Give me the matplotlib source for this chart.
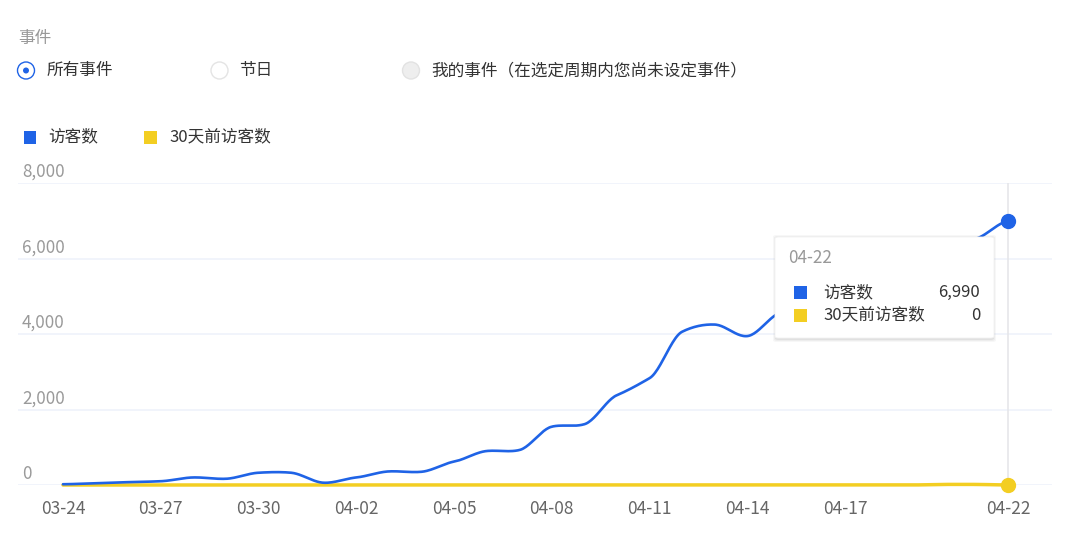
import numpy as np
import matplotlib
matplotlib.use("Agg")
import matplotlib.pyplot as plt
from matplotlib.patches import FancyBboxPatch, Rectangle, Ellipse

plt.rcParams['font.family'] = ['Noto Sans CJK SC', 'DejaVu Sans']

# ---- data ----
dates = ["03-24", "03-25", "03-26", "03-27", "03-28", "03-29", "03-30", "03-31",
         "04-01", "04-02", "04-03", "04-04", "04-05", "04-06", "04-07", "04-08",
         "04-09", "04-10", "04-11", "04-12", "04-13", "04-14", "04-15", "04-16",
         "04-17", "04-18", "04-19", "04-20", "04-21", "04-22"]
visitors = [20, 45, 75, 100, 200, 165, 325, 325,
            60, 200, 360, 350, 620, 900, 925, 1545,
            1610, 2380, 2830, 4060, 4250, 3945, 4560, 4950,
            5300, 5650, 5950, 6250, 6520, 6990]
visitors_30d = [0] * 27 + [15, 15, 0]
tick_labels = ["03-24", "03-27", "03-30", "04-02", "04-05", "04-08",
               "04-11", "04-14", "04-17", "04-22"]
y_ticks = [0, 2000, 4000, 6000, 8000]
series_names = ["访客数", "30天前访客数"]
series_colors = ["#1F63E6", "#F3CE22"]
radio_labels = ["所有事件", "节日", "我的事件（在选定周期内您尚未设定事件）"]
hover_index = 29

FS = 12
W, H = 1083, 551
fig = plt.figure(figsize=(W / 100, H / 100), dpi=100)
fig.patch.set_facecolor("white")


def fx(x):
    return x / W


def fy(y):
    return 1 - y / H


# ---- axes ----
ax = fig.add_axes([fx(18), fy(485), fx(1052) - fx(18), fy(183) - fy(485)])
ax.set_ylim(0, 8000)
px_per_day = (1008 - 63) / 29
ax.set_xlim(-(63 - 18) / px_per_day, 29 + (1052 - 1008) / px_per_day)
for s in ax.spines.values():
    s.set_visible(False)
ax.set_yticks(y_ticks)
ax.set_yticklabels([])
ax.tick_params(axis='y', length=0)
ax.grid(axis='y', color="#EEF1FA", linewidth=1.1)
ax.set_axisbelow(True)
idx = {d: i for i, d in enumerate(dates)}
ax.set_xticks([idx[t] for t in tick_labels])
ax.set_xticklabels(tick_labels, color="#666666", fontsize=12.5)
ax.tick_params(axis='x', length=0, pad=11)

for v in y_ticks:
    ax.text((22 - 18) / (1052 - 18), v + 60, f"{v:,}", transform=ax.get_yaxis_transform(),
            ha='left', va='bottom', color="#9A9A9A", fontsize=12.3)


def smooth(xs, ys, n=24, k=0.3):
    xs = np.asarray(xs, float)
    ys = np.asarray(ys, float)
    ox, oy = [], []
    m = len(xs)
    for i in range(m - 1):
        p0 = ys[max(i - 1, 0)]
        p1 = ys[i]
        p2 = ys[i + 1]
        p3 = ys[min(i + 2, m - 1)]
        t = np.linspace(0, 1, n, endpoint=False)
        m1 = (p2 - p0) * k
        m2 = (p3 - p1) * k
        h00 = 2 * t**3 - 3 * t**2 + 1
        h10 = t**3 - 2 * t**2 + t
        h01 = -2 * t**3 + 3 * t**2
        h11 = t**3 - t**2
        oy.extend(h00 * p1 + h10 * m1 + h01 * p2 + h11 * m2)
        ox.extend(xs[i] + t * (xs[i + 1] - xs[i]))
    ox.append(xs[-1])
    oy.append(ys[-1])
    return np.array(ox), np.array(oy)


x = np.arange(len(dates))
ax.axvline(hover_index, color="#E6E6EA", linewidth=1.2, zorder=1)

sx, sy = smooth(x, visitors_30d)
ax.plot(sx, sy, color=series_colors[1], linewidth=2.5, zorder=3, clip_on=False,
        solid_capstyle='round')
sx, sy = smooth(x, visitors)
ax.plot(sx, sy, color=series_colors[0], linewidth=1.9, zorder=4, clip_on=False,
        solid_capstyle='round')
ax.plot([x[hover_index]], [visitors[hover_index]], 'o', color=series_colors[0],
        markersize=10, zorder=6, clip_on=False)
ax.plot([x[hover_index]], [visitors_30d[hover_index]], 'o', color=series_colors[1],
        markersize=10, zorder=6, clip_on=False)

# ---- header ----
fig.text(fx(18), fy(39), "事件", color="#999999", fontsize=FS, va='center', ha='left')
radio_x = [26, 219.5, 411]
text_x = [47, 239.5, 431]
ry = 70.5
for i, (cx, tx, lab) in enumerate(zip(radio_x, text_x, radio_labels)):
    if i == 0:
        fig.patches.append(Ellipse((fx(cx), fy(ry)), 17 / W, 17 / H, transform=fig.transFigure,
                                   facecolor="white", edgecolor="#1F63E6", linewidth=1.0))
        fig.patches.append(Ellipse((fx(cx), fy(ry)), 6 / W, 6 / H, transform=fig.transFigure,
                                   facecolor="#1F63E6", edgecolor="none"))
    elif i == 1:
        fig.patches.append(Ellipse((fx(cx), fy(ry)), 17 / W, 17 / H, transform=fig.transFigure,
                                   facecolor="white", edgecolor="#E4E4E4", linewidth=1.0))
    else:
        fig.patches.append(Ellipse((fx(cx), fy(ry)), 17 / W, 17 / H, transform=fig.transFigure,
                                   facecolor="#EEEEEE", edgecolor="#E2E2E2", linewidth=1.0))
    fig.text(fx(tx), fy(ry), lab, color="#333333", fontsize=FS, va='center', ha='left')

# ---- legend ----
leg_sq_x = [23.5, 144]
leg_tx = [48, 169]
for sqx, tx, name, col in zip(leg_sq_x, leg_tx, series_names, series_colors):
    fig.patches.append(Rectangle((fx(sqx), fy(143.5)), 12.5 / W, 12.5 / H,
                                 transform=fig.transFigure, facecolor=col, edgecolor='none'))
    fig.text(fx(tx), fy(137), name, color="#333333", fontsize=FS, va='center', ha='left')

# ---- tooltip ----
bx0, by0, bx1, by1 = 775, 237, 994, 338
for k, a in enumerate([0.05, 0.04, 0.03]):
    off = k + 1
    fig.patches.append(FancyBboxPatch((fx(bx0 - off + 1), fy(by1 + off + 1)),
                                      (bx1 - bx0 + 2 * off - 2) / W, (by1 - by0 + 2 * off) / H,
                                      boxstyle="round,pad=0,rounding_size=0.003",
                                      transform=fig.transFigure, facecolor="black",
                                      edgecolor='none', alpha=a, zorder=20))
fig.patches.append(FancyBboxPatch((fx(bx0), fy(by1)), (bx1 - bx0) / W, (by1 - by0) / H,
                                  boxstyle="round,pad=0,rounding_size=0.003",
                                  transform=fig.transFigure, facecolor="white",
                                  edgecolor='#F2F2F2', linewidth=0.6, zorder=21))
fig.text(fx(788), fy(258), dates[hover_index], color="#999999", fontsize=12.3,
         va='center', ha='left', zorder=22)
tip_vals = [visitors[hover_index], visitors_30d[hover_index]]
for j, (name, col, val) in enumerate(zip(series_names, series_colors, tip_vals)):
    cy = 292.5 + j * 22.5
    fig.patches.append(Rectangle((fx(793.5), fy(cy + 6.5)), 13 / W, 13 / H,
                                 transform=fig.transFigure, facecolor=col, edgecolor='none',
                                 zorder=22))
    fig.text(fx(823.5), fy(cy), name, color="#333333", fontsize=FS, va='center',
             ha='left', zorder=22)
    fig.text(fx(980), fy(cy), f"{val:,}", color="#333333", fontsize=FS, va='center',
             ha='right', zorder=22)

fig.savefig("out.png", dpi=100, facecolor="white")
